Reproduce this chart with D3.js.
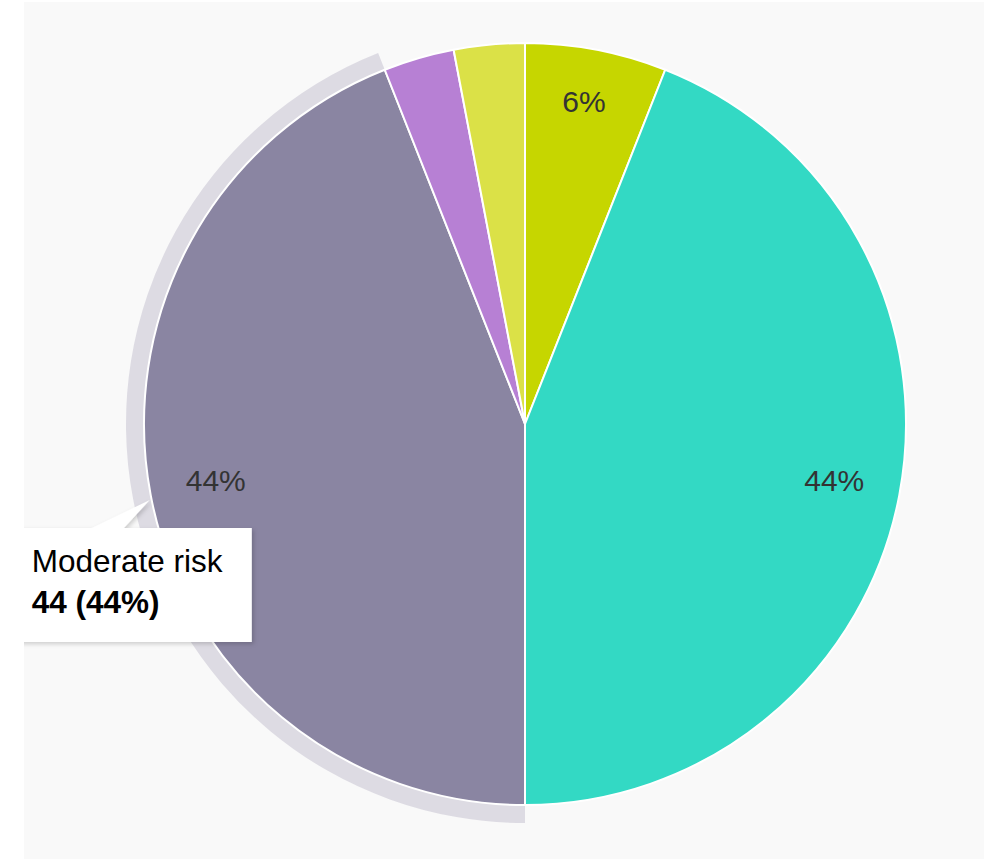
<!DOCTYPE html>
<html>
<head>
<meta charset="utf-8">
<script src="https://cdn.jsdelivr.net/npm/d3@7"></script>
<style>
  html, body { margin: 0; padding: 0; background: #ffffff; }
  svg { display: block; font-family: "Liberation Sans", Arial, sans-serif; }
</style>
</head>
<body>
<svg id="chart" width="986" height="859"></svg>
<script>
// Risk distribution, clockwise from 12 o'clock
const categories = ["High risk", "Low risk", "Moderate risk", "Very high risk", "Unknown"];
const values = [6, 44, 44, 3, 3];
const colors = ["#c6d600", "#33d9c4", "#8a85a2", "#b780d4", "#dbe147"];
const hoveredCategory = "Moderate risk";

const W = 986, H = 859;
const panel = { x: 24, y: 2, w: 960, h: 857 };
const cx = 525, cy = 424, R = 381;
const haloSize = 18;
const labelRadius = 318;

const svg = d3.select("#chart");

svg.append("defs").append("clipPath").attr("id", "panelClip")
  .append("rect").attr("x", panel.x).attr("y", panel.y).attr("width", panel.w).attr("height", panel.h);

const shadow = svg.select("defs").append("filter").attr("id", "tipShadow")
  .attr("x", "-20%").attr("y", "-20%").attr("width", "140%").attr("height", "140%");
shadow.append("feDropShadow").attr("dx", 2).attr("dy", 2).attr("stdDeviation", 2)
  .attr("flood-color", "#000").attr("flood-opacity", 0.18);

svg.append("rect").attr("x", panel.x).attr("y", panel.y)
  .attr("width", panel.w).attr("height", panel.h).attr("fill", "#f9f9f9");

const root = svg.append("g").attr("clip-path", "url(#panelClip)");
const g = root.append("g").attr("transform", `translate(${cx},${cy})`);

const data = categories.map((c, i) => ({ name: c, value: values[i], color: colors[i] }));
const total = d3.sum(values);
const pie = d3.pie().sort(null).value(d => d.value);
const arcs = pie(data);

const arc = d3.arc().innerRadius(0).outerRadius(R);
const haloArc = d3.arc().innerRadius(R).outerRadius(R + haloSize);
const labelArc = d3.arc().innerRadius(labelRadius).outerRadius(labelRadius);

// hover halo behind the highlighted slice
const hovered = arcs.find(a => a.data.name === hoveredCategory);
g.append("path").attr("d", haloArc(hovered))
  .attr("fill", hovered.data.color).attr("fill-opacity", 0.25);

g.selectAll("path.slice").data(arcs).join("path")
  .attr("class", "slice")
  .attr("d", arc)
  .attr("fill", d => d.data.color)
  .attr("stroke", "#ffffff")
  .attr("stroke-width", 2)
  .attr("stroke-linejoin", "round");

const pct = v => Math.round(v / total * 100);

g.selectAll("text.lbl").data(arcs.filter(a => pct(a.data.value) >= 5)).join("text")
  .attr("class", "lbl")
  .attr("x", d => labelArc.centroid(d)[0] * 0.99)
  .attr("y", d => labelArc.centroid(d)[1] * 1.02 - 4)
  .attr("text-anchor", "middle")
  .attr("dominant-baseline", "central")
  .attr("font-size", 30)
  .attr("fill", "#333333")
  .text(d => pct(d.data.value) + "%");

// tooltip anchored on the hovered slice's outer edge
const mid = (hovered.startAngle + hovered.endAngle) / 2;
const ax = cx + (R + 3) * Math.sin(mid) + 2;
const ay = cy - (R + 3) * Math.cos(mid) + 4;

const tip = root.append("g").attr("filter", "url(#tipShadow)");
const boxTop = ay + 28, boxBottom = ay + 142;
const boxLeft = ax - 150, boxRight = ax + 102;
tip.append("path")
  .attr("d", `M${boxLeft},${boxTop} L${ax - 58},${boxTop} L${ax},${ay} L${ax - 26},${boxTop} ` +
             `L${boxRight},${boxTop} L${boxRight},${boxBottom} L${boxLeft},${boxBottom} Z`)
  .attr("fill", "#ffffff");

const tipText = root.append("text").attr("font-size", 31.5).attr("fill", "#000000");
tipText.append("tspan").attr("x", ax - 118).attr("y", ay + 72).text(hovered.data.name);
tipText.append("tspan").attr("x", ax - 118).attr("y", ay + 113).attr("font-weight", "bold")
  .text(`${hovered.data.value} (${pct(hovered.data.value)}%)`);
</script>
</body>
</html>
